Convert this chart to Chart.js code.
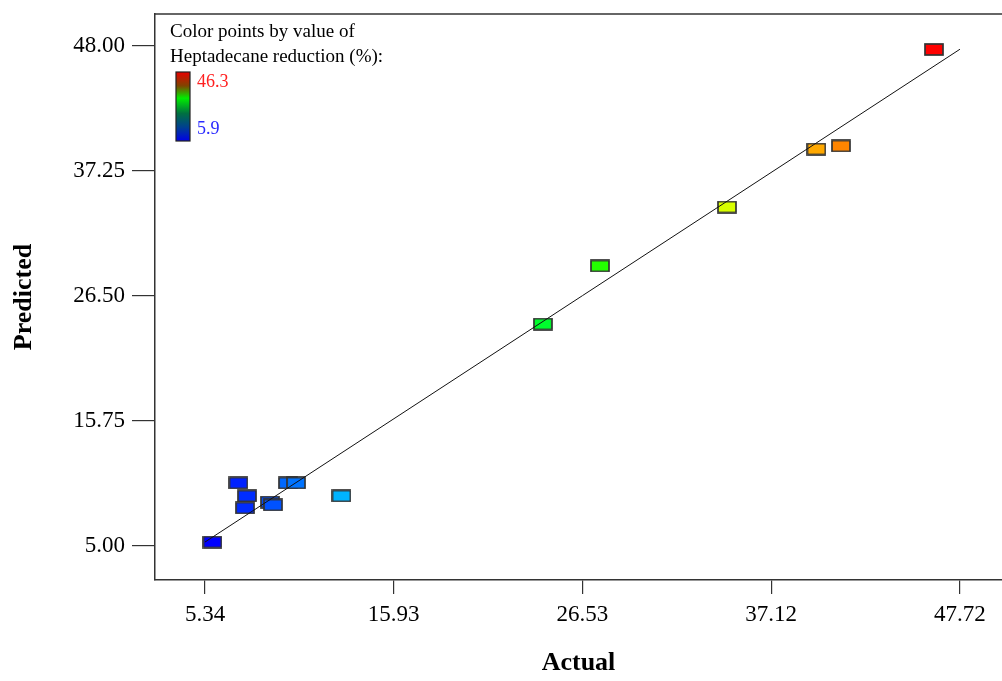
<!DOCTYPE html>
<html><head><meta charset="utf-8">
<script src="https://cdn.jsdelivr.net/npm/chart.js@4.4.1/dist/chart.umd.min.js"></script>
<style>html,body{margin:0;padding:0;background:#fff;}#wrap{width:1002px;height:681px;}</style>
</head><body><div id="wrap"><canvas id="c" width="1002" height="681"></canvas></div>
<script>
const actual    = [5.76, 7.22, 7.70, 7.59, 8.99, 9.16, 10.00, 10.45, 13.00, 24.31, 27.51, 34.64, 39.66, 41.04, 46.26];
const predicted = [5.34, 10.42, 9.30, 8.27, 8.78, 8.53, 10.42, 10.42, 9.30, 24.09, 29.08, 34.15, 39.14, 39.40, 47.70];
const xTicks = [5.34, 15.93, 26.53, 37.12, 47.72];
const yTicks = [5.00, 15.75, 26.50, 37.25, 48.00];
const colorRange = [5.9, 46.3];
const legendTitle = ["Color points by value of", "Heptadecane reduction (%):"];

function jet(v){
  let t = (v - colorRange[0]) / (colorRange[1] - colorRange[0]);
  t = Math.max(0, Math.min(1, t));
  let r, g, b;
  if (t < 0.25){ r = 0; g = 255 * t / 0.25; b = 255; }
  else if (t < 0.5){ r = 0; g = 255; b = 255 * (1 - (t - 0.25) / 0.25); }
  else if (t < 0.75){ r = 255 * (t - 0.5) / 0.25; g = 255; b = 0; }
  else { r = 255; g = 255 * (1 - (t - 0.75) / 0.25); b = 0; }
  return `rgb(${Math.round(r)},${Math.round(g)},${Math.round(b)})`;
}
function rectImg(color){
  const c = document.createElement('canvas');
  c.width = 20; c.height = 13;
  const x = c.getContext('2d');
  x.fillStyle = color; x.fillRect(1, 1, 18, 11);
  x.strokeStyle = '#333'; x.lineWidth = 1.7; x.strokeRect(1, 1, 18, 11);
  return c;
}
const pts = actual.map((a, i) => ({x: a, y: predicted[i]}));
const styles = actual.map(a => rectImg(jet(a)));

function noPad(s){ s.paddingTop = 0; s.paddingBottom = 0; s.paddingLeft = 0; s.paddingRight = 0; }

const framePlugin = {
  id: 'frame',
  afterDraw(chart){
    const {ctx, chartArea: ca} = chart;
    ctx.save();
    ctx.strokeStyle = '#333'; ctx.lineWidth = 1.5;
    ctx.beginPath(); ctx.moveTo(ca.left, ca.top); ctx.lineTo(chart.width, ca.top); ctx.stroke();
    ctx.fillStyle = '#000';
    ctx.font = '19px "Liberation Serif"';
    ctx.textBaseline = 'middle'; ctx.textAlign = 'left';
    ctx.fillText(legendTitle[0], 170, 32);
    ctx.fillText(legendTitle[1], 170, 57);
    const gx = 176, gy = 72, gw = 14, gh = 69;
    const grad = ctx.createLinearGradient(0, gy, 0, gy + gh);
    grad.addColorStop(0, '#e80000');
    grad.addColorStop(0.2, '#804400');
    grad.addColorStop(0.38, '#00ee00');
    grad.addColorStop(0.6, '#007040');
    grad.addColorStop(0.8, '#004090');
    grad.addColorStop(1, '#0000e8');
    ctx.fillStyle = grad; ctx.fillRect(gx, gy, gw, gh);
    ctx.strokeStyle = '#222'; ctx.lineWidth = 1.2; ctx.strokeRect(gx, gy, gw, gh);
    ctx.font = '18px "Liberation Serif"';
    ctx.fillStyle = '#ff2020'; ctx.fillText(colorRange[1].toFixed(1), 197, 82);
    ctx.fillStyle = '#2a2aff'; ctx.fillText(colorRange[0].toFixed(1), 197, 129);
    ctx.restore();
  }
};

new Chart(document.getElementById('c'), {
  type: 'scatter',
  data: { datasets: [
    { type: 'line', data: [{x: xTicks[0], y: xTicks[0]}, {x: xTicks[xTicks.length-1], y: xTicks[xTicks.length-1]}],
      borderColor: '#111', borderWidth: 1, pointRadius: 0, fill: false },
    { data: pts, pointStyle: styles, pointRadius: 9, pointHoverRadius: 9 }
  ]},
  options: {
    responsive: false, animation: false, devicePixelRatio: 1,
    layout: { autoPadding: false, padding: { top: 14, right: 0, left: 0, bottom: 0 } },
    plugins: { legend: { display: false }, tooltip: { enabled: false } },
    scales: {
      x: { type: 'linear', min: 2.533, max: 50.08,
        afterBuildTicks: s => { s.ticks = xTicks.map(v => ({value: v})); },
        afterFit: s => { s.height = 101; noPad(s); },
        ticks: { callback: v => v.toFixed(2), font: { family: 'Liberation Serif', size: 23 }, color: '#000', padding: 7, maxRotation: 0, autoSkip: false },
        grid: { drawOnChartArea: false, drawTicks: true, tickLength: 14, color: '#333', lineWidth: 1.2 },
        border: { display: true, color: '#333', width: 1.5 },
        title: { display: true, text: 'Actual', font: { family: 'Liberation Serif', size: 26, weight: 'bold' }, color: '#000', padding: { top: 0, bottom: 2 } }
      },
      y: { type: 'linear', min: 2.076, max: 50.75,
        afterBuildTicks: s => { s.ticks = yTicks.map(v => ({value: v})); },
        afterFit: s => { s.width = 155; noPad(s); },
        ticks: { callback: v => v.toFixed(2), font: { family: 'Liberation Serif', size: 23 }, color: '#000', padding: 7, autoSkip: false },
        grid: { drawOnChartArea: false, drawTicks: true, tickLength: 23, color: '#333', lineWidth: 1.2 },
        border: { display: true, color: '#333', width: 1.5 },
        title: { display: true, text: 'Predicted', font: { family: 'Liberation Serif', size: 26, weight: 'bold' }, color: '#000', padding: { top: 9, bottom: 0 } }
      }
    }
  },
  plugins: [framePlugin]
});
</script></body></html>
